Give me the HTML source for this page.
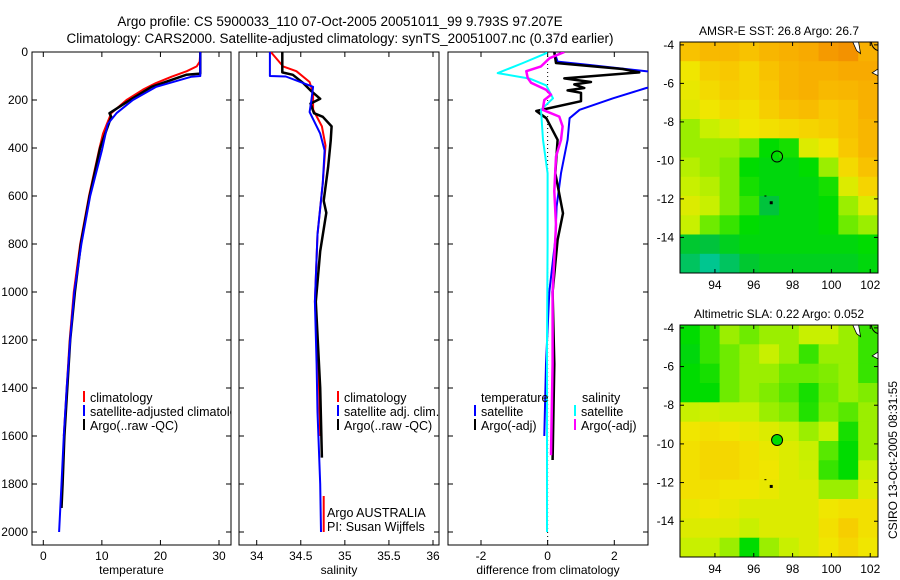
<!DOCTYPE html>
<html><head><meta charset="utf-8">
<style>
html,body{margin:0;padding:0;background:#fff;}
svg{display:block;font-family:"Liberation Sans",sans-serif;}
text{fill:#000;}
</style></head>
<body>
<svg id="fig" width="900" height="580" viewBox="0 0 900 580">
<defs>
<clipPath id="c1"><rect x="32" y="52" width="199" height="493"/></clipPath>
<clipPath id="c2"><rect x="239" y="52" width="200" height="493"/></clipPath>
<clipPath id="c3"><rect x="448" y="52" width="200" height="493"/></clipPath>
<clipPath id="cm1"><rect x="680" y="42" width="198" height="231"/></clipPath>
<clipPath id="cm2"><rect x="680" y="325" width="198" height="232"/></clipPath>
</defs>
<text x="340" y="26" text-anchor="middle" font-size="13.5">Argo profile: CS 5900033_110 07-Oct-2005 20051011_99 9.793S 97.207E</text>
<text x="340" y="43" text-anchor="middle" font-size="13.5">Climatology: CARS2000. Satellite-adjusted climatology: synTS_20051007.nc (0.37d earlier)</text>
<g id="g"></g>
</svg>
<script>
// ---------- profile data ----------
const depthTicks = [0,200,400,600,800,1000,1200,1400,1600,1800,2000];
const tempTicks = [0,10,20,30];
const salTicks = [34,34.5,35,35.5,36];
const salTickLabels = ["34","34.5","35","35.5","36"];
const diffTicks = [-2,0,2];

const tClimDepth = [0,40,60,80,103,130,157,200,255,340,400,600,800,1000,1200,1400,1600];
const tClimVal   = [26.8,26.7,26.2,24.5,21.9,19.2,17,14.2,11.6,10.2,9.6,7.8,6.3,5.2,4.5,4.0,3.5];
const tSatDepth = [0,100,103,145,200,255,300,410,600,800,1000,1200,1400,1600,1800,2000];
const tSatVal   = [26.8,26.8,25.3,19.3,15.3,12.5,11.0,10.0,8.0,6.5,5.3,4.6,4.0,3.5,3.1,2.7];
const tArgoDepth = [0,90,95,145,200,255,270,400,600,800,1000,1200,1400,1600,1800,1900];
const tArgoVal   = [26.8,26.8,24.4,18.5,14.8,11.3,11.6,9.7,7.9,6.4,5.4,4.6,4.1,3.6,3.3,3.1];

const sClimDepth = [0,60,80,125,170,240,310,390,545,760,1040,1300,1600];
const sClimVal   = [34.16,34.30,34.45,34.60,34.64,34.64,34.74,34.78,34.75,34.69,34.66,34.70,34.72];
const sClim2Depth = [1850,2000];
const sClim2Val   = [34.76,34.76];
const sSatDepth = [0,100,102,145,200,250,340,410,545,760,1040,1300,1500,1800,2000];
const sSatVal   = [34.15,34.15,34.33,34.64,34.62,34.60,34.72,34.77,34.75,34.69,34.66,34.68,34.69,34.72,34.73];
const sArgoDepth = [0,85,95,130,160,195,215,255,270,310,370,480,620,670,830,1040,1400,1690];
const sArgoVal   = [34.29,34.29,34.41,34.53,34.61,34.72,34.61,34.65,34.75,34.85,34.84,34.81,34.76,34.79,34.72,34.67,34.72,34.74];

const dTSatDepth = [0,40,54,80,100,130,150,193,241,276,366,505,644,783,1000,1300,1600];
const dTSatVal   = [0.2,0.3,1.26,2.96,3.8,3.6,2.96,1.96,0.96,0.66,0.6,0.4,0.27,0.23,0.05,-0.05,-0.1];
const dTArgoDepth = [0,46,71,85,110,125,135,150,160,170,205,246,276,366,505,672,783,1000,1300,1700];
const dTArgoVal   = [0.2,0.25,2.25,2.75,0.5,1.3,0.8,1.1,0.6,1.0,1.0,-0.34,-0.04,0.3,0.23,0.46,0.3,0.15,0.2,0.15];
const dSSatDepth = [0,5,46,88,111,139,193,241,366,505,800,1200,1600,2000];
const dSSatVal   = [-0.04,-0.04,-0.74,-1.5,-0.54,-0.04,0.16,-0.2,-0.14,0,0,-0.02,-0.02,-0.02];
const dSArgoDepth = [0,26,60,80,108,128,157,178,200,241,269,310,366,436,580,720,1000,1300,1680];
const dSArgoVal   = [0.5,0.06,-0.2,-0.64,-0.6,-0.5,-0.05,0.1,-0.1,-0.15,0.35,0.45,0.4,0.25,0.2,0.25,0.15,0.15,0.1];

// ---------- map data ----------
const lonTicks = [94,96,98,100,102];
const latTicks = [-4,-6,-8,-10,-12,-14];
const sstGrid = [
[0.72,0.75,0.75,0.72,0.76,0.78,0.8,0.84,0.86,0.78],
[0.6,0.68,0.7,0.66,0.72,0.76,0.78,0.78,0.8,0.8],
[0.58,0.64,0.68,0.66,0.7,0.76,0.78,0.75,0.76,0.78],
[0.55,0.6,0.64,0.62,0.68,0.72,0.74,0.7,0.72,0.78],
[0.45,0.5,0.55,0.6,0.62,0.64,0.66,0.68,0.72,0.76],
[0.45,0.45,0.45,0.4,0.3,0.32,0.55,0.6,0.7,0.76],
[0.48,0.45,0.42,0.3,0.28,0.28,0.3,0.45,0.64,0.72],
[0.5,0.48,0.42,0.32,0.28,0.28,0.28,0.32,0.55,0.66],
[0.55,0.5,0.42,0.35,0.2,0.28,0.28,0.3,0.45,0.55],
[0.5,0.4,0.35,0.3,0.28,0.28,0.28,0.3,0.4,0.45],
[0.22,0.2,0.25,0.28,0.28,0.28,0.28,0.28,0.28,0.3],
[0.15,0.08,0.15,0.22,0.25,0.25,0.25,0.25,0.25,0.28]];
const slaGrid = [
[0.3,0.35,0.45,0.4,0.45,0.45,0.5,0.5,0.45,0.35],
[0.28,0.35,0.4,0.45,0.5,0.45,0.35,0.45,0.45,0.35],
[0.3,0.32,0.4,0.45,0.45,0.4,0.4,0.42,0.45,0.35],
[0.3,0.3,0.4,0.45,0.42,0.38,0.32,0.4,0.45,0.42],
[0.5,0.52,0.5,0.5,0.45,0.42,0.33,0.42,0.38,0.45],
[0.6,0.62,0.6,0.58,0.55,0.5,0.45,0.5,0.32,0.45],
[0.62,0.65,0.65,0.62,0.58,0.55,0.5,0.38,0.3,0.45],
[0.62,0.65,0.65,0.62,0.6,0.55,0.52,0.35,0.3,0.5],
[0.62,0.62,0.6,0.6,0.58,0.55,0.55,0.45,0.45,0.55],
[0.58,0.6,0.58,0.55,0.55,0.55,0.55,0.6,0.62,0.62],
[0.55,0.55,0.55,0.5,0.55,0.55,0.55,0.62,0.68,0.62],
[0.5,0.5,0.45,0.3,0.45,0.5,0.55,0.6,0.65,0.6]];
const argoLon = 97.2, argoLat = -9.8;
const sstArgo = 0.35, slaArgo = 0.3;

// ---------- helpers ----------
const NS = "http://www.w3.org/2000/svg";
const G = document.getElementById('g');
function mk(tag, attrs, parent){
  const e = document.createElementNS(NS, tag);
  for (const k in attrs) e.setAttribute(k, attrs[k]);
  (parent||G).appendChild(e);
  return e;
}
function lin(d0,d1,r0,r1){ return v => r0 + (v-d0)*(r1-r0)/(d1-d0); }
const yDepth = lin(0,2000,52,532);
const xTemp = lin(0,30,43.3,219);
const xSal = lin(34,36,256.7,433);
const xDiff = lin(-2,2,481,614.3);

function frame(x0,x1,y0,y1,name){
  const r = mk('rect',{x:x0,y:y0,width:x1-x0,height:y1-y0,fill:'none',stroke:'#000','stroke-width':1});
  
  
}
function line(x1,y1,x2,y2,parent,sw){
  return mk('line',{x1,y1,x2,y2,stroke:'#000','stroke-width':sw||1},parent);
}
function txt(s,x,y,anchor,size,name,parent){
  const t = mk('text',{x,y,'text-anchor':anchor||'start','font-size':size||12},parent);
  t.textContent = s;
  
  
  return t;
}
function series(depths, vals, xs, color, width, clip, name){
  const pts = depths.map((d,i)=> xs(vals[i]).toFixed(1)+','+yDepth(d).toFixed(1)).join(' ');
  const p = mk('polyline',{points:pts,fill:'none',stroke:color,'stroke-width':width,'clip-path':'url(#'+clip+')','stroke-linejoin':'round'});
  
  
}
function panelAxes(x0,x1,y0,y1,xs,ticks,labels,showY,xlabel,name){
  frame(x0,x1,y0,y1,name+'-frame');
  ticks.forEach((t,i)=>{
    const x = xs(t);
    line(x,y1,x,y1-5); line(x,y0,x,y0+5);
    txt(labels[i],x,y1+15,'middle',12,name+'-x-tick-label');
  });
  depthTicks.forEach(d=>{
    const y = yDepth(d);
    line(x0,y,x0+5,y); line(x1,y,x1-5,y);
    if (showY) txt(String(d),28,y+4,'end',12,'depth-tick-label');
  });
  txt(xlabel,(x0+x1)/2,y1+29,'middle',12,name+'-x-axis-title');
}

// ---------- panels ----------
panelAxes(32,231,52,545,xTemp,tempTicks,tempTicks.map(String),true,'temperature','temperature-panel');
panelAxes(239,439,52,545,xSal,salTicks,salTickLabels,false,'salinity','salinity-panel');
panelAxes(448,648,52,545,xDiff,diffTicks,diffTicks.map(String),false,'difference from climatology','difference-panel');

series(tClimDepth,tClimVal,xTemp,'#f00',2,'c1','temperature-climatology-line');
series(tArgoDepth,tArgoVal,xTemp,'#000',2.5,'c1','temperature-argo-line');
series(tSatDepth,tSatVal,xTemp,'#00f',2,'c1','temperature-satellite-line');

series(sClimDepth,sClimVal,xSal,'#f00',2,'c2','salinity-climatology-line');
series(sClim2Depth,sClim2Val,xSal,'#f00',2,'c2','salinity-climatology-deep-line');
series(sArgoDepth,sArgoVal,xSal,'#000',2.5,'c2','salinity-argo-line');
series(sSatDepth,sSatVal,xSal,'#00f',2,'c2','salinity-satellite-line');

mk('line',{x1:xDiff(0),y1:52,x2:xDiff(0),y2:545,stroke:'#000','stroke-width':1,'stroke-dasharray':'1,3'});
series(dTSatDepth,dTSatVal,xDiff,'#00f',2,'c3','diff-temp-satellite-line');
series(dTArgoDepth,dTArgoVal,xDiff,'#000',2.5,'c3','diff-temp-argo-line');
series(dSSatDepth,dSSatVal,xDiff,'#0ff',2,'c3','diff-sal-satellite-line');
series(dSArgoDepth,dSArgoVal,xDiff,'#f0f',2.5,'c3','diff-sal-argo-line');

// ---------- legends ----------
function legItem(x,y,color,label,name,clip){
  const g = mk('g',clip?{'clip-path':'url(#'+clip+')'}:{});
  
  
  mk('rect',{x:x,y:y-11,width:2,height:11,fill:color},g);
  txt(label,x+7,y,'start',12.5,name+'-label',g);
}
legItem(83,402,'#f00','climatology','legend-temp-climatology','c1');
legItem(83,416,'#00f','satellite-adjusted climatology','legend-temp-satellite','c1');
legItem(83,430,'#000','Argo(..raw -QC)','legend-temp-argo','c1');
legItem(337,402,'#f00','climatology','legend-sal-climatology');
legItem(337,416,'#00f','satellite adj. clim.','legend-sal-satellite');
legItem(337,430,'#000','Argo(..raw -QC)','legend-sal-argo');
txt('Argo AUSTRALIA',327,517,'start',12.5,'argo-australia-label');
txt('PI: Susan Wijffels',327,531,'start',12.5,'pi-label');
txt('temperature',481,402,'start',12.5,'legend-temp-heading');
legItem(474,416,'#00f','satellite','legend-diff-temp-satellite');
legItem(474,430,'#000','Argo(-adj)','legend-diff-temp-argo');
txt('salinity',582,402,'start',12.5,'legend-sal-heading');
legItem(574,416,'#0ff','satellite','legend-diff-sal-satellite');
legItem(574,430,'#f0f','Argo(-adj)','legend-diff-sal-argo');

// ---------- maps ----------
const stops = [[0,[0,200,200]],[0.2,[0,195,60]],[0.3,[0,220,0]],[0.4,[110,235,0]],[0.5,[200,240,0]],[0.6,[240,230,0]],[0.7,[248,200,0]],[0.8,[248,170,0]],[0.9,[240,130,0]],[1,[220,60,0]]];
function cmap(v){
  for (let i=1;i<stops.length;i++){
    if (v<=stops[i][0]){
      const a=stops[i-1],b=stops[i],f=(v-a[0])/(b[0]-a[0]);
      const c=a[1].map((q,j)=>Math.round(q+(b[1][j]-q)*f));
      return 'rgb('+c.join(',')+')';
    }
  }
  return 'rgb(220,60,0)';
}
function drawMap(grid,y0,y1,clip,title,name,argoVal,filled){
  const xs = lin(92.2,102.4,680,878);
  const ys = lin(-3.85,-15.85,y0,y1);
  const nr = grid.length, nc = grid[0].length;
  const dl = (102.4-92.2)/nc, dt = 12/nr;
  const g = mk('g',{'clip-path':'url(#'+clip+')'});
  
  
  grid.forEach((row,r)=>row.forEach((v,c)=>{
    const xa = xs(92.2+c*dl), xb = xs(92.2+(c+1)*dl);
    const ya = ys(-3.85-r*dt), yb = ys(-3.85-(r+1)*dt);
    const cell = mk('rect',{x:xa.toFixed(1),y:ya.toFixed(1),width:(xb-xa+0.5).toFixed(1),height:(yb-ya+0.5).toFixed(1),fill:cmap(v)},g);
    
    
  }));
  // small land outlines top-right
  mk('path',{d:`M${xs(101.1)} ${ys(-3.85)} L${xs(101.3)} ${ys(-4.3)} L${xs(101.5)} ${ys(-4.45)} L${xs(101.4)} ${ys(-3.85)} Z`,fill:'#fff',stroke:'#000','stroke-width':0.8},g);
  mk('path',{d:`M${xs(102.4)} ${ys(-5.25)} L${xs(102.1)} ${ys(-5.45)} L${xs(102.4)} ${ys(-5.6)} Z`,fill:'#fff',stroke:'#000','stroke-width':0.8},g);
  mk('path',{d:`M${xs(102.05)} ${ys(-3.85)} Q${xs(102.1)} ${ys(-4.2)} ${xs(102.4)} ${ys(-4.3)}`,fill:'none',stroke:'#000','stroke-width':1},g);
  const ci = mk('circle',{cx:xs(argoLon),cy:ys(argoLat),r:5.5,fill:filled?cmap(argoVal):'none',stroke:'#000','stroke-width':1},g);
  
  
  mk('rect',{x:xs(96.9)-1.5,y:ys(-12.2)-1.5,width:3,height:3,fill:'#000'},g);
  mk('rect',{x:xs(96.6)-1,y:ys(-11.85)-0.5,width:2,height:1,fill:'#000'},g);
  frame(680,878,y0,y1,name+'-frame');
  lonTicks.forEach(l=>{
    const x=xs(l); line(x,y1,x,y1-4); line(x,y0,x,y0+4);
    txt(String(l),x,y1+16,'middle',12,name+'-lon-tick-label');
  });
  latTicks.forEach(l=>{
    const y=ys(l); line(680,y,684,y); line(878,y,874,y);
    txt(String(l),674,y+4,'end',12,name+'-lat-tick-label');
  });
  txt(title,779,y0-7,'middle',12,name+'-title');
}
drawMap(sstGrid,42,273,'cm1','AMSR-E SST: 26.8 Argo: 26.7','sst-map',sstArgo,false);
drawMap(slaGrid,325,557,'cm2','Altimetric SLA: 0.22 Argo: 0.052','sla-map',slaArgo,true);

const st = mk('text',{x:0,y:0,'font-size':12,'text-anchor':'middle',transform:'translate(897,460) rotate(-90)'});
st.textContent = 'CSIRO 13-Oct-2005 08:31:55';


</script>
</body></html>
